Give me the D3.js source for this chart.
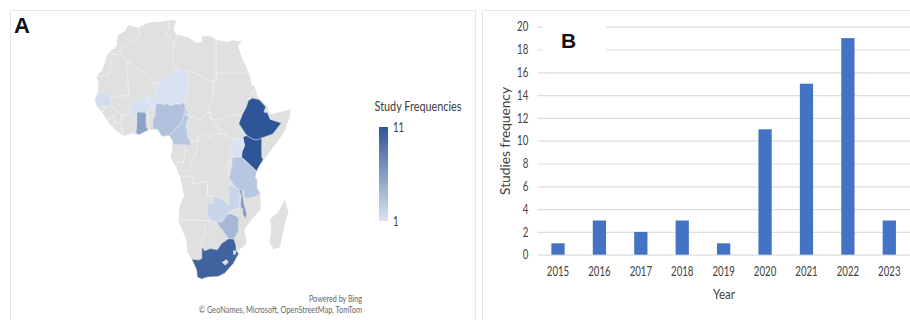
<!DOCTYPE html>
<html>
<head>
<meta charset="utf-8">
<script src="https://cdn.jsdelivr.net/npm/d3@7"></script>
<style>
  html, body { margin: 0; background: #fff; }
  svg { display: block; }
  text { font-family: Lato, sans-serif; }
</style>
</head>
<body>
<div id="graph"></div>
<script>
'use strict'

// panel B
const years = ['2015', '2016', '2017', '2018', '2019', '2020', '2021', '2022', '2023']
const studies = [1, 3, 2, 3, 1, 11, 15, 19, 3]
const yTicks = [0, 2, 4, 6, 8, 10, 12, 14, 16, 18, 20]

// panel A, outlines are [lon, lat]
const countryNames = ['Senegal', 'Burkina Faso', 'Ghana', 'Niger', 'Nigeria', 'Cameroon', 'Ethiopia', 'Kenya', 'Uganda', 'Tanzania', 'Zambia', 'Malawi', 'Zimbabwe', 'South Africa']
const countryValues = [1.5, 1.2, 5.5, 1, 3.4, 3, 11, 11, 1, 3, 2, 6, 4, 10]
const countryRings = [
  [[-17.5, 14.7], [-16.5, 16.1], [-14.5, 16.6], [-12.2, 14.8], [-11.4, 12.4], [-13.7, 12.6], [-16.8, 12.4]],
  [[-5.5, 10.5], [-5.3, 11.8], [-4.3, 13.2], [-2.9, 13.6], [-2, 14.2], [-0.5, 15.1], [0.2, 14.9], [2.2, 12.6], [0.9, 11], [-2.8, 11], [-2.9, 9.9], [-4.3, 9.6]],
  [[-2.8, 11], [0, 11], [0.5, 10.4], [0.4, 8.8], [0.5, 7], [1.2, 6.1], [-2, 4.8], [-3.1, 5.1], [-2.8, 7.9]],
  [[0.2, 14.9], [3.5, 15.4], [4.2, 19.1], [5.8, 19.5], [12, 23.5], [14.2, 22.6], [15.5, 21], [15.3, 17], [13.6, 13.7], [12.3, 13.1], [10.7, 13.3], [9, 12.8], [7.8, 13.3], [6.8, 13.1], [4, 13.5], [3.6, 11.7], [2.8, 12.4], [2.2, 12.6]],
  [[2.7, 6.4], [2.8, 9], [3.6, 10], [3.6, 11.7], [4, 13.5], [6.8, 13.1], [7.8, 13.3], [9, 12.8], [10.7, 13.3], [12.3, 13.1], [13.6, 13.7], [14.2, 12.4], [14.2, 11.5], [13.3, 9], [11.9, 7], [11, 6.6], [9.8, 5.5], [8.5, 4.6], [6, 4.3], [4.4, 6.3]],
  [[8.5, 4.6], [9.8, 5.5], [11, 6.6], [11.9, 7], [13.3, 9], [14.2, 11.5], [14.2, 12.4], [15, 11], [14.2, 10], [15.5, 9.9], [14.4, 7.5], [14.8, 5.9], [15, 4.3], [16.1, 2.8], [16.1, 2], [13.3, 2.2], [11.3, 2.2], [9.8, 2.2], [9.7, 3.2]],
  [[36.4, 14.3], [37.9, 14.9], [39, 14.6], [40.1, 14.5], [42.4, 12.5], [41.8, 11], [43, 10.9], [44, 9], [47.9, 8], [44.9, 5], [42, 4.2], [41, 3.9], [39.5, 3.4], [38, 3.6], [36, 4.4], [35, 5.4], [33, 7.9], [34.3, 10.5], [35.5, 12.2]],
  [[35.9, 4.6], [36, 4.4], [38, 3.6], [39.5, 3.4], [41, 3.9], [41, -0.9], [41.5, -1.7], [40.2, -3.3], [39.2, -4.7], [37.7, -3.6], [33.9, -1], [34.1, 0.4], [35, 1.9], [34.4, 4.2]],
  [[30, -1.4], [33.9, -1], [34.1, 0.4], [35, 1.9], [34.4, 4.2], [33, 3.8], [31, 3.7], [30.9, 2.4], [30, 1]],
  [[33.9, -1], [37.7, -3.6], [39.2, -4.7], [38.8, -6.4], [39.5, -7], [39.4, -9], [40.5, -10.5], [38.4, -11.3], [36.5, -11.7], [34.9, -11.6], [34.6, -9.6], [33, -9.5], [31.3, -8.3], [29.5, -6.5], [30.5, -3.5], [30.7, -1.1]],
  [[30.5, -8.2], [33, -9.5], [33.5, -10.7], [33.3, -12.5], [33.2, -14], [30.2, -15], [28.9, -16], [27, -17.9], [25.2, -17.8], [23.4, -17.6], [22, -16.2], [22, -13], [24, -13], [24, -11], [25.3, -11.5], [27.2, -11.8], [28.6, -13], [29.8, -13.4], [29, -9]],
  [[33, -9.5], [34, -9.5], [34.5, -11.5], [34.9, -13.5], [35.3, -14.4], [35.8, -16], [35.3, -17.1], [34.3, -15.8], [34.4, -14.5], [33.6, -14], [33.6, -12.5], [33.8, -11]],
  [[25.2, -17.8], [27, -17.9], [28.9, -16], [30.4, -15.7], [32.9, -16.7], [32.9, -20], [31.3, -22.4], [29.4, -22.2], [27.7, -20.5], [25.9, -18.7]],
  [[16.5, -28.6], [17.4, -28.7], [19, -28.9], [20, -28.4], [20, -24.8], [21, -26], [23, -25.3], [25.5, -25.7], [26.9, -23.7], [29.4, -22.2], [31.3, -22.4], [32, -24.5], [32, -25.9], [32.9, -26.9], [31, -30], [28, -33], [25.7, -34], [22, -34.2], [20, -34.8], [18.4, -34.2], [18.2, -32]]
]
const mainland = [[-5.9, 35.8], [-2.2, 35.1], [1, 36.5], [5, 36.8], [9.8, 37.3], [11, 37], [10.3, 35.5], [10.1, 34.3], [11.1, 33.2], [15.2, 32.3], [18, 30.8], [20, 31], [20.1, 32.6], [23.1, 32.6], [25, 31.6], [29, 31], [31, 31.5], [32.3, 31.2], [34.2, 31.3], [32.6, 29.9], [33.8, 27], [35.5, 24], [37, 21], [37.4, 18.8], [38.6, 18], [39.7, 15.1], [43.1, 12.5], [43.3, 11.5], [44.5, 10.4], [48, 11.2], [51.2, 11.9], [50.8, 9.5], [48.9, 5.5], [46, 2.4], [42, -1.5], [40.2, -3.3], [39.2, -4.7], [38.8, -6.4], [39.5, -7], [39.4, -9], [40.5, -10.5], [40.7, -14.6], [37, -17.6], [34.9, -19.8], [35.5, -22], [35.5, -24], [32.8, -25.9], [32.9, -27.5], [31, -30], [28, -33], [25.7, -34], [22, -34.2], [20, -34.8], [18.4, -34.2], [18.2, -32], [16.5, -28.6], [15, -26.5], [14.5, -22.5], [11.8, -17.5], [12.2, -14], [13.8, -11], [12.3, -6], [11, -3.8], [9, -1], [9.7, 1], [9.7, 3.2], [8.5, 4.6], [6, 4.3], [4.4, 6.3], [1.2, 6], [-2, 4.8], [-4.5, 5.2], [-7.5, 4.4], [-9.3, 5.5], [-11.4, 6.9], [-13.3, 8.8], [-15, 11], [-16.8, 12.4], [-17.5, 14.7], [-16.5, 16.5], [-16.2, 19], [-17, 21], [-14.9, 23], [-13, 27.7], [-9.8, 29.8], [-9.6, 32.8], [-6.8, 34.2]]
const madagascar = [[49.3, -12], [50.4, -15.5], [49.5, -17], [47.5, -24.8], [45.2, -25.6], [43.7, -23.4], [44.4, -20], [44, -17], [46.5, -15.5]]
const lesotho = [[27, -29.6], [28.7, -28.6], [29.4, -29.6], [28.2, -30.6]]
const eswatini = [[31, -25.8], [32, -26], [32, -27], [31, -27.3]]
const borderLines = [
  [[-2.2, 35.1], [-1.7, 33], [-5, 31], [-8.7, 28.7], [-8.7, 27.3], [-13, 27.7]],
  [[-8.7, 27.3], [-4.8, 25], [-6.5, 25], [-5.5, 15.5], [-9.3, 15.5], [-12.2, 14.8]],
  [[-12, 26], [-12, 23.5], [-13, 21.3], [-17, 21]],
  [[-4.8, 25], [1.1, 21], [3.3, 19], [4.2, 19.1]],
  [[8.6, 36.9], [8.3, 34.5], [7.5, 33.5], [9.1, 32], [10.2, 30.3], [11.5, 33.1]],
  [[10.2, 30.3], [9.5, 27], [10, 24.5], [12, 23.5]],
  [[14.2, 22.6], [15, 23], [24, 19.5], [24, 20], [25, 20], [25, 31.6]],
  [[25, 22], [36.9, 22]],
  [[24, 19.5], [24, 15.7], [22.9, 13.5], [22, 11], [22.9, 11], [23.5, 9], [26.5, 9], [28, 9.5], [30, 10], [33, 10.5], [34, 9.5]],
  [[15.5, 9.9], [18.9, 9], [21.7, 10.6], [22.9, 11]],
  [[38.6, 18], [36.4, 14.3]],
  [[23.5, 9], [27.4, 5.1], [31, 3.7]],
  [[15, 4.3], [16.1, 2.8], [18.6, 3.5], [19.5, 5.1], [22.5, 4.2], [25, 5], [27.4, 5.1]],
  [[18.6, 3.5], [17.7, -1], [16.2, -2], [15.9, -3.8], [15.2, -4.3], [12.3, -4.8]],
  [[13.3, 2.2], [14.5, 1.4], [13.5, -2.4], [11.5, -2.4], [11, -3.8]],
  [[12.3, -6], [16.5, -6], [17, -8], [22, -7.3], [22, -11], [24, -11]],
  [[11.8, -17.3], [14, -17.4], [18.5, -17.4], [23.4, -17.6]],
  [[21, -18.3], [21, -22], [20, -22], [20, -24.8]],
  [[30, -1.4], [29, -2.8], [29.5, -6.5], [30.5, -8.2]],
  [[30.5, -2.4], [29, -2.7]],
  [[-11.4, 12.4], [-8, 10.2], [-5.5, 10.5]],
  [[-11.4, 6.9], [-10.5, 8.3], [-8.5, 7.6], [-7.5, 4.4]],
  [[-8.5, 7.6], [-8, 10.2]],
  [[-13.3, 9], [-11, 10], [-10.5, 8.3]],
  [[-16.7, 12.4], [-13.7, 12.6], [-15, 11]],
  [[1.6, 6.2], [0.9, 11], [2.8, 12.4]],
  [[44, 9], [43.3, 11.5]],
  [[34.9, -11.6], [40.5, -10.5]]
]
const legendValues = [11, 1]

const svg = d3.select('#graph').append('svg')
  .attr('width', 910)
  .attr('height', 320)

const inkText = '#404040'

// stretches text to the narrow look of the original image
const fit = (sel, len) => sel.attr('textLength', len).attr('lengthAdjust', 'spacingAndGlyphs')

// panel frames
svg.append('path')
  .attr('d', 'M10.5,320V10.5H475.5V320M482.5,320V10.5H910')
  .attr('fill', 'none')
  .attr('stroke', '#e6e6e6')

// the reference map is a soft, low resolution image
svg.append('defs').append('filter')
  .attr('id', 'soft')
  .append('feGaussianBlur')
  .attr('stdDeviation', 0.5)

// ---- A: map
const lon = d3.scaleLinear().domain([-17.5, 51.3]).range([95, 291])
const lat = d3.scaleLinear().domain([37.3, 14.9, 4.7, -22, -34.8]).range([20, 98, 135, 238, 279])
const path = d3.geoPath(d3.geoTransform({
  point (x, y) { this.stream.point(lon(x), lat(y)) }
}))
const shape = ring => ({ type: 'Polygon', coordinates: [ring.concat([ring[0]])] })
const color = d3.scaleLinear().domain([1, 11]).range(['#dae3f3', '#2f5597'])
const land = '#e0e0e0'
const seam = '#f2f2f2'

const map = svg.append('g')
  .attr('class', 'map')
  .attr('filter', 'url(#soft)')

map.selectAll('path.land')
  .data([mainland, madagascar])
  .join('path')
  .attr('class', 'land')
  .attr('d', d => path(shape(d)))
  .attr('fill', land)

map.selectAll('path.border')
  .data(borderLines)
  .join('path')
  .attr('class', 'border')
  .attr('d', d => path({ type: 'LineString', coordinates: d }))
  .attr('fill', 'none')
  .attr('stroke', seam)
  .attr('stroke-width', 0.8)

map.selectAll('path.country')
  .data(countryNames.map((name, i) => ({ name, value: countryValues[i], ring: countryRings[i] })))
  .join('path')
  .attr('class', 'country')
  .attr('d', d => path(shape(d.ring)))
  .attr('fill', d => color(d.value))
  .attr('stroke', seam)
  .attr('stroke-width', 0.4)

map.selectAll('path.enclave')
  .data([lesotho, eswatini])
  .join('path')
  .attr('class', 'enclave')
  .attr('d', d => path(shape(d)))
  .attr('fill', land)

svg.append('text')
  .attr('x', 14)
  .attr('y', 33)
  .attr('fill', '#111')
  .style('font-family', '"Liberation Sans", sans-serif')
  .style('font-weight', 700)
  .style('font-size', '22px')
  .text('A')

// legend
const grad = svg.select('defs').append('linearGradient')
  .attr('id', 'legend-grad')
  .attr('x1', 0).attr('y1', 0).attr('x2', 0).attr('y2', 1)
grad.selectAll('stop')
  .data(legendValues)
  .join('stop')
  .attr('offset', (d, i) => i)
  .attr('stop-color', d => color(d))

const legendY = d3.scaleLinear().domain(legendValues).range([127, 221])
svg.append('rect')
  .attr('x', 379)
  .attr('y', legendY(11))
  .attr('width', 9)
  .attr('height', legendY(1) - legendY(11))
  .attr('fill', 'url(#legend-grad)')

svg.selectAll('text.legend-tick')
  .data(legendValues)
  .join('text')
  .attr('class', 'legend-tick')
  .attr('x', 393)
  .attr('y', d => legendY(d) + 5)
  .attr('fill', inkText)
  .style('font-size', '13px')
  .text(d => d)
  .call(fit, d => String(d).length * 5.6)

svg.append('text')
  .attr('x', 374.5)
  .attr('y', 111)
  .attr('fill', inkText)
  .style('font-size', '13.5px')
  .text('Study Frequencies')
  .call(fit, 87)

svg.append('text')
  .attr('x', 362)
  .attr('y', 302)
  .attr('text-anchor', 'end')
  .attr('fill', '#666')
  .style('font-size', '8.5px')
  .text('Powered by Bing')
  .call(fit, 53)

svg.append('text')
  .attr('x', 362)
  .attr('y', 313)
  .attr('text-anchor', 'end')
  .attr('fill', '#666')
  .style('font-size', '8.5px')
  .text('© GeoNames, Microsoft, OpenStreetMap, TomTom')
  .call(fit, 163)

// ---- B: bars
const x = d3.scaleBand()
  .domain(years)
  .range([537.3, 910])
  .paddingInner(0.68)
  .paddingOuter(0.34)
const y = d3.scaleLinear().domain([0, 20]).range([254.7, 26.7])

const yAxis = svg.append('g')
  .attr('class', 'y-axis')
  .attr('transform', 'translate(537.3, 0)')
  .call(d3.axisLeft(y).tickValues(yTicks).tickSize(-372.7).tickPadding(9))
yAxis.select('.domain').remove()
yAxis.selectAll('line').attr('stroke', '#dedede').attr('stroke-width', 1.2)
yAxis.selectAll('text')
  .attr('fill', inkText)
  .style('font-size', '13px')
  .call(fit, d => String(d).length * 5.6)

// the "B" label sits on a white box that hides the two top gridlines
svg.append('rect')
  .attr('x', 543)
  .attr('y', 22)
  .attr('width', 63)
  .attr('height', 30)
  .attr('fill', '#fff')

svg.append('text')
  .attr('x', 561)
  .attr('y', 48)
  .attr('fill', '#111')
  .style('font-family', '"Liberation Sans", sans-serif')
  .style('font-weight', 700)
  .style('font-size', '21px')
  .text('B')

svg.selectAll('rect.bar')
  .data(years.map((year, i) => ({ year, n: studies[i] })))
  .join('rect')
  .attr('class', 'bar')
  .attr('x', d => x(d.year))
  .attr('y', d => y(d.n))
  .attr('width', x.bandwidth())
  .attr('height', d => y(0) - y(d.n))
  .attr('fill', '#4472c4')

const xAxis = svg.append('g')
  .attr('class', 'x-axis')
  .attr('transform', 'translate(0, 254.7)')
  .call(d3.axisBottom(x).tickSize(0).tickPadding(12))
xAxis.select('.domain').remove()
xAxis.selectAll('text')
  .attr('fill', inkText)
  .style('font-size', '13.5px')
  .call(fit, 22.4)

svg.append('text')
  .attr('x', 724)
  .attr('y', 299)
  .attr('text-anchor', 'middle')
  .attr('fill', inkText)
  .style('font-size', '13.5px')
  .text('Year')
  .call(fit, 22)

svg.append('text')
  .attr('transform', 'translate(510, 141) rotate(-90)')
  .attr('text-anchor', 'middle')
  .attr('fill', inkText)
  .style('font-size', '13.5px')
  .text('Studies frequency')
  .call(fit, 108)
</script>
</body>
</html>
